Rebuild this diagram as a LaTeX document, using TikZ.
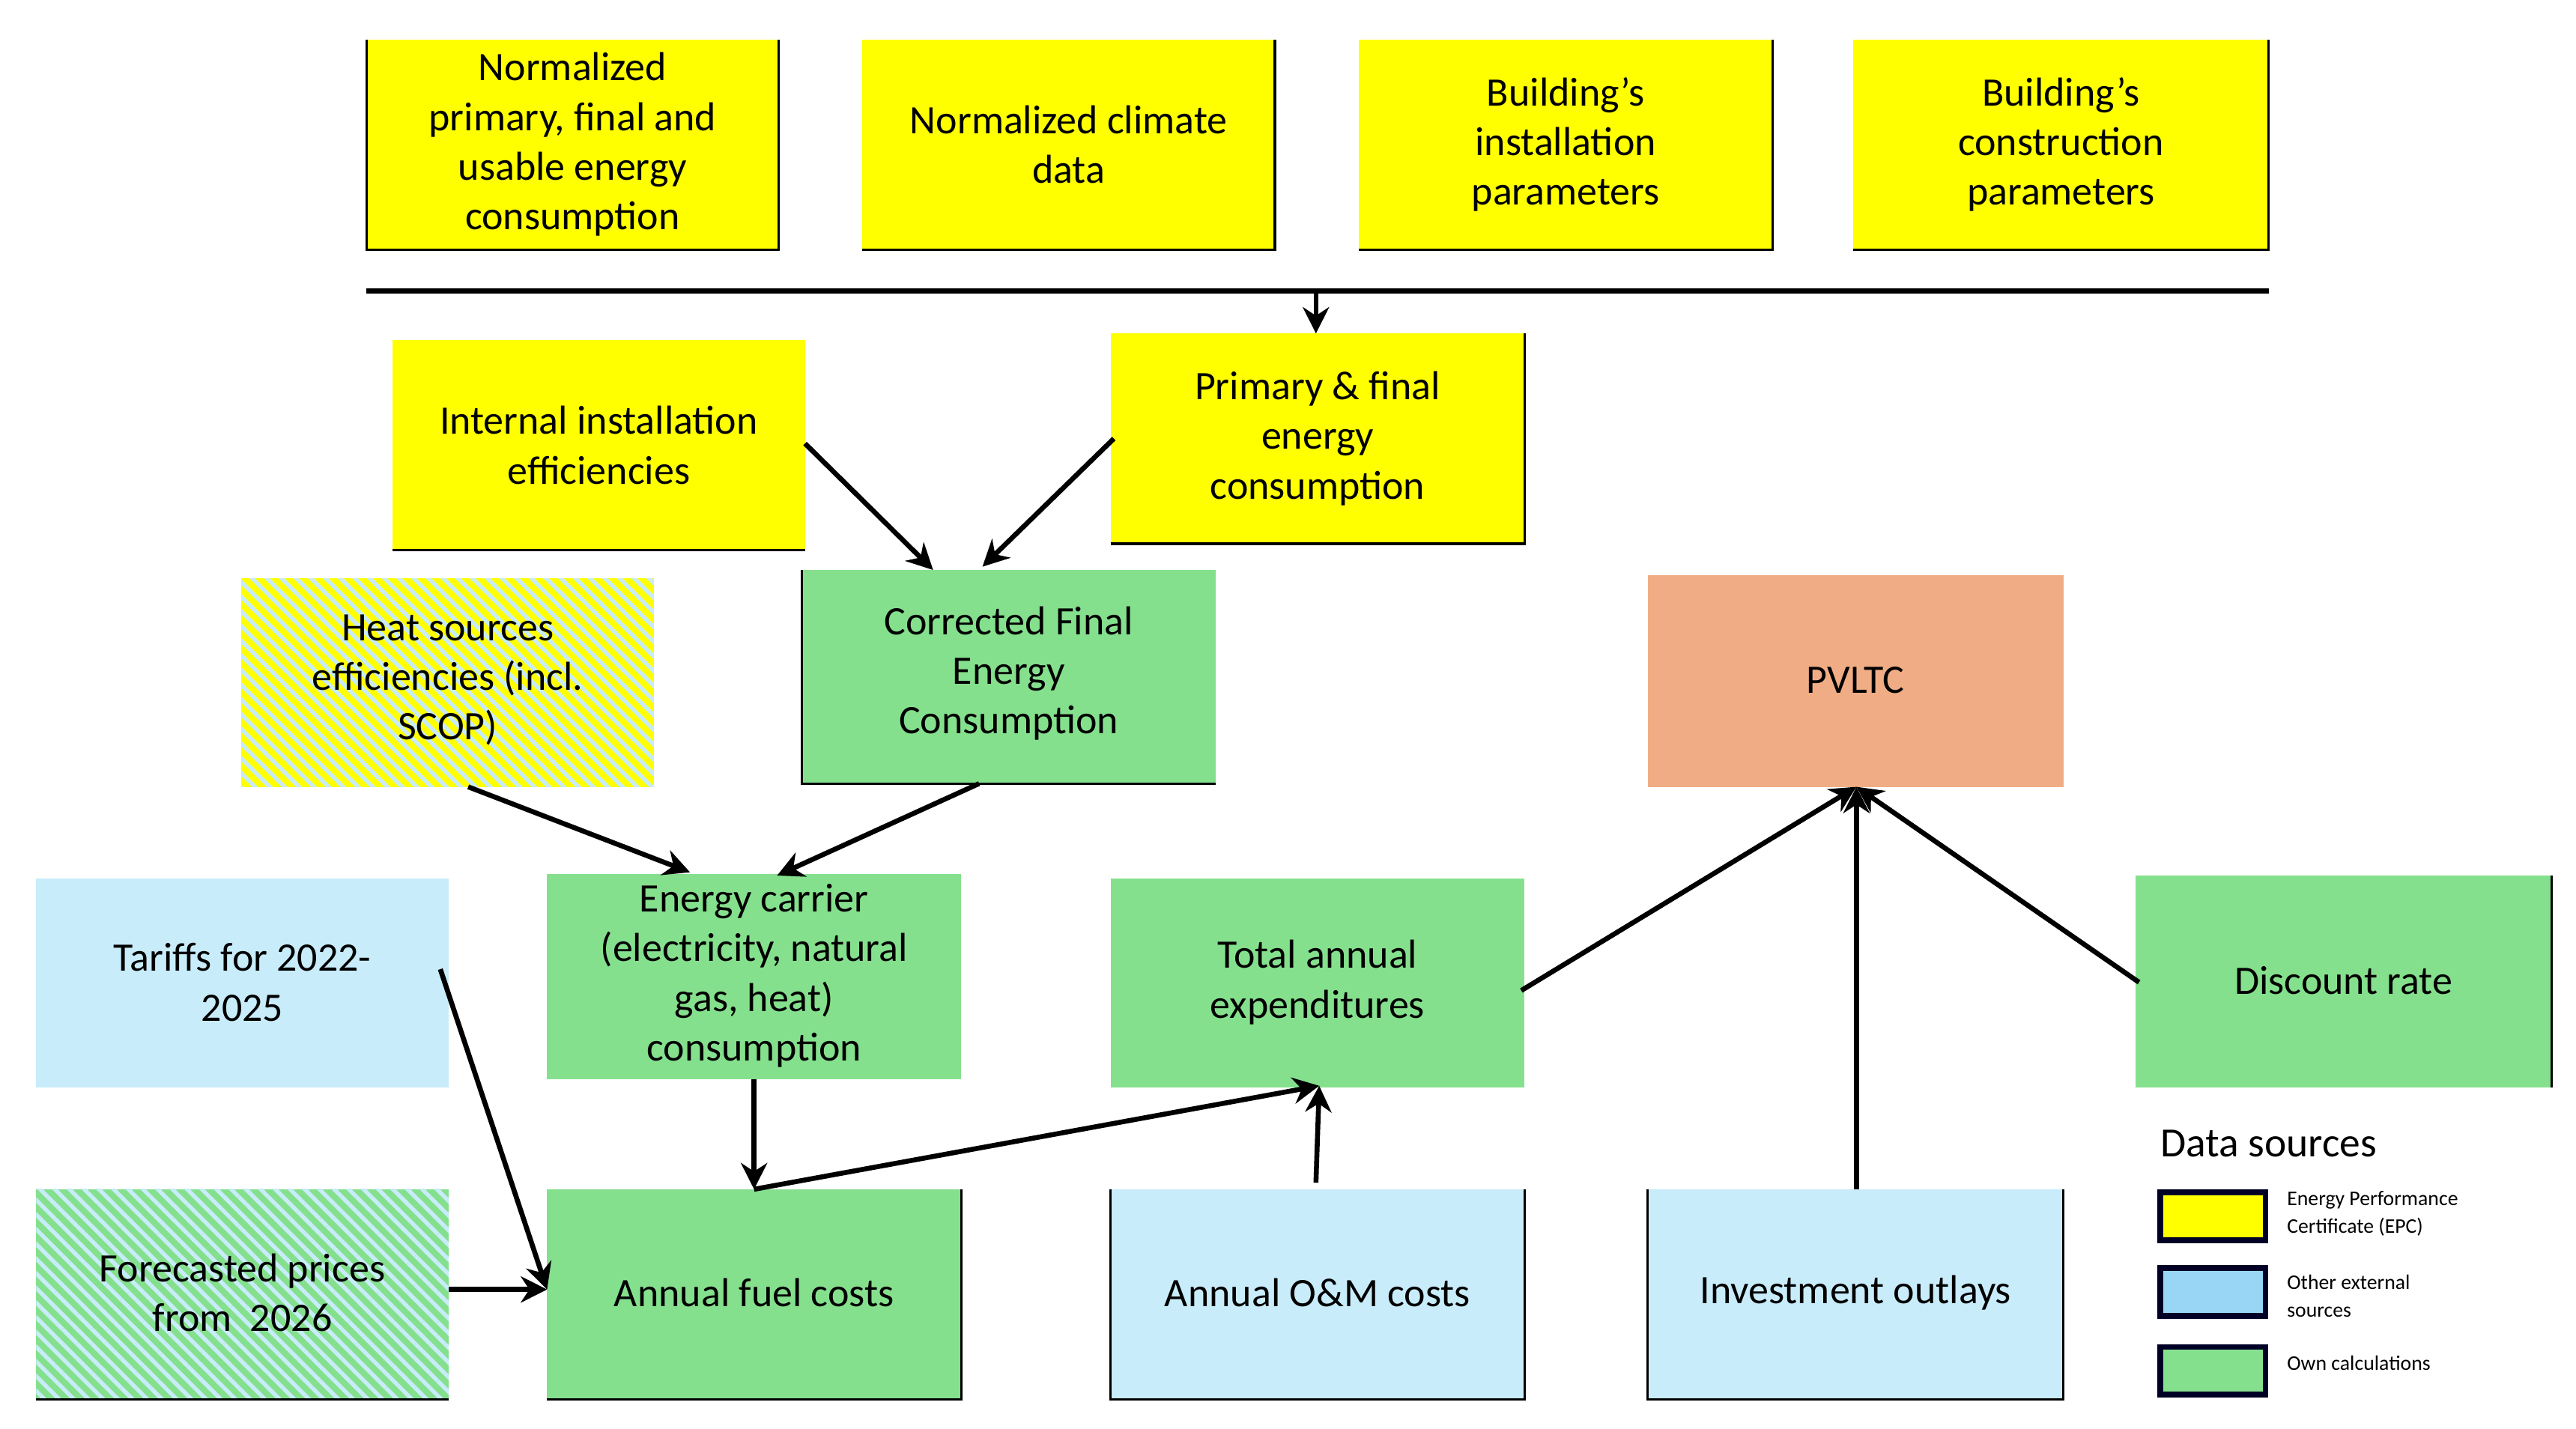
\documentclass[tikz,border=0pt]{standalone}
\usepackage{fontspec}
\setmainfont{Carlito}
\usetikzlibrary{arrows.meta,patterns.meta}
\definecolor{epc}{HTML}{FFFF00}
\definecolor{ext}{HTML}{C8ECFA}
\definecolor{own}{HTML}{85E08D}
\definecolor{pv}{HTML}{F0AD85}
\definecolor{legblue}{HTML}{99D5F5}
\begin{document}
\begin{tikzpicture}[x=0.05cm,y=-0.05cm,
  box/.style={inner sep=0pt,align=center,font=\fontsize{35}{43}\selectfont},
  arr/.style={line width=0.15cm,-{Stealth[length=0.8cm,width=0.8cm]}},
  ln/.style={line width=0.15cm},
  edge/.style={draw=black,line width=0.07cm}]
\useasboundingbox (0,0) rectangle (1568,869.5);
\newcommand{\bx}[6]{% name, x1,y1,x2,y2, fill
  \fill[#6] (#2,#3) rectangle (#4,#5);
  \coordinate (#1-nw) at (#2,#3); \coordinate (#1-se) at (#4,#5);}
% top row
\bx{a1}{223}{24}{474}{152}{epc}
\bx{a2}{525}{24}{776}{152}{epc}
\bx{a3}{827}{24}{1079}{152}{epc}
\bx{a4}{1128}{24}{1381}{152}{epc}
\draw[edge] (223,24)--(223,152)--(474,152)--(474,24);
\draw[edge] (525,152)--(776,152)--(776,24);
\draw[edge] (827,152)--(1079,152)--(1079,24);
\draw[edge] (1128,152)--(1381,152)--(1381,24);
\node[box] (t1) at (348.5,88) {Normalized\\primary, final and\\usable energy\\consumption};
\node[box] (t2) at (650.5,88) {Normalized climate\\data};
\node[box] (t3) at (953,88) {Building's\\installation\\parameters};
\node[box] (t4) at (1254.5,88) {Building's\\construction\\parameters};
\coordinate (barL) at (223,177); \coordinate (barR) at (1381,177); \coordinate (barM) at (801,177);
\draw[ln] (barL)--(barR);
% second row
\fill[epc] (239,207) rectangle (490,335);
\draw[edge] (239,335)--(490,335);
\node[box] (iie) at (364.5,271) {Internal installation\\efficiencies};
\fill[epc] (676,203) rectangle (928,331);
\draw[edge] (676,331)--(928,331)--(928,203);
\node[box] (pfe) at (802,267) {Primary \& final\\energy\\consumption};
\coordinate (pfeT) at (801,203);
\draw[arr] (barM)--(pfeT);
% heat sources hatched
\fill[epc] (147,352) rectangle (398,479);
\fill[pattern={Lines[angle=-45,distance=9pt,line width=3.5pt]},pattern color=ext] (147,352) rectangle (398,479);
\node[box] (hs) at (272.5,414) {Heat sources\\efficiencies (incl.\\SCOP)};
% corrected
\fill[own] (488,347) rectangle (740,477);
\draw[edge] (488,347)--(488,477)--(740,477);
\node[box] (cfe) at (614,410) {Corrected Final\\Energy\\Consumption};
% PVLTC
\fill[pv] (1003,350) rectangle (1256,479);
\node[box] (pv) at (1129.5,414) {PVLTC};
% row 3
\fill[ext] (22,535) rectangle (273,662);
\node[box] (tar) at (147.5,598) {Tariffs for 2022-\\2025};
\fill[own] (333,532) rectangle (585,657);
\node[box] (ec) at (459,594) {Energy carrier\\(electricity, natural\\gas, heat)\\consumption};
\fill[own] (676,535) rectangle (928,662);
\node[box] (tae) at (802,598) {Total annual\\expenditures};
\fill[own] (1300,533) rectangle (1553,662);
\draw[edge] (1553,533)--(1553,662);
\node[box] (dr) at (1426.5,597) {Discount rate};
% row 4
\fill[own] (22,724) rectangle (273,852);
\fill[pattern={Lines[angle=-45,distance=9pt,line width=3.5pt]},pattern color=ext] (22,724) rectangle (273,852);
\draw[edge] (22,852)--(273,852);
\node[box] (fp) at (147.5,787) {Forecasted prices\\from\ \ 2026};
\fill[own] (333,724) rectangle (585,852);
\draw[edge] (333,852)--(585,852)--(585,724);
\node[box] (afc) at (459,787) {Annual fuel costs};
\fill[ext] (676,724) rectangle (928,852);
\draw[edge] (676,724)--(676,852)--(928,852)--(928,724);
\node[box] (om) at (802,787) {Annual O\&M costs};
\fill[ext] (1003,724) rectangle (1256,852);
\draw[edge] (1003,724)--(1003,852)--(1256,852)--(1256,724);
\node[box] (inv) at (1129.5,787) {Investment outlays};
% connector anchor coordinates
\coordinate (iieR) at (490,270); \coordinate (cfeT1) at (568,347);
\coordinate (pfeL) at (678,267); \coordinate (cfeT2) at (598,345);
\coordinate (hsB) at (285,479); \coordinate (ecT1) at (420,531);
\coordinate (cfeB) at (596,477); \coordinate (ecT2) at (473,533);
\coordinate (ecB) at (459,657); \coordinate (afcT) at (459,724);
\coordinate (taeB) at (803,661);
\coordinate (tarR) at (268,590); \coordinate (afcL) at (333,785);
\coordinate (fpR) at (273,785);
\coordinate (omT) at (801,720);
\coordinate (taeR) at (926,603); \coordinate (pvB) at (1130,479);
\coordinate (invT) at (1130,724); \coordinate (drL) at (1302,598);
\draw[arr] (iieR)--(cfeT1);
\draw[arr] (pfeL)--(cfeT2);
\draw[arr] (hsB)--(ecT1);
\draw[arr] (cfeB)--(ecT2);
\draw[arr] (ecB)--(afcT);
\draw[arr] (afcT)--(taeB);
\draw[arr] (tarR)--(afcL);
\draw[arr] (fpR)--(afcL);
\draw[arr] (omT)--(taeB);
\draw[arr] (taeR)--(pvB);
\draw[arr] (invT)--(pvB);
\draw[arr] (drL)--(pvB);
% legend
\node[anchor=west,inner sep=0pt,font=\fontsize{36}{40}\selectfont] (lt) at (1315,696) {Data sources};
\begin{scope}[every node/.style={anchor=west,inner sep=0pt,align=left,font=\fontsize{18}{24}\selectfont}]
\draw[line width=0.18cm,draw=black!85!blue,fill=epc] (1315,726) rectangle (1379,755);
\node (l1) at (1392,739) {Energy Performance\\Certificate (EPC)};
\draw[line width=0.18cm,draw=black!85!blue,fill=legblue] (1315,772) rectangle (1379,801);
\node (l2) at (1392,789) {Other external\\sources};
\draw[line width=0.18cm,draw=black!85!blue,fill=own] (1315,820) rectangle (1379,849);
\node (l3) at (1392,830) {Own calculations};
\end{scope}
\end{tikzpicture}
\end{document}
